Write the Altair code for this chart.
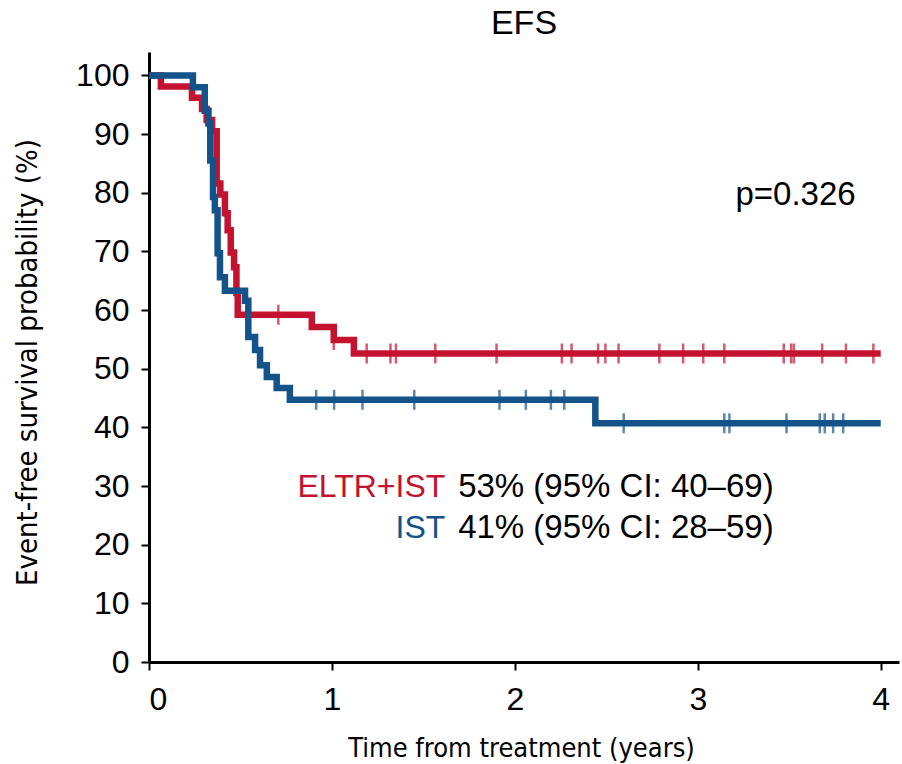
import altair as alt
import pandas as pd

RED = "#C4122F"
BLUE = "#13538A"

# Kaplan-Meier step points (time in years, survival %)
red_t = [0, 0.065, 0.235, 0.29, 0.315, 0.345, 0.37, 0.39, 0.415, 0.43, 0.447, 0.465, 0.478, 0.485, 0.89, 1.01, 1.12, 4.0]
red_s = [100, 98.1, 96.2, 94.3, 92.4, 90.5, 81.6, 79.7, 76.5, 73.6, 69.8, 67.3, 62.9, 59.2, 57.1, 54.9, 52.6, 52.6]

blue_t = [0, 0.24, 0.305, 0.325, 0.335, 0.35, 0.36, 0.375, 0.388, 0.415, 0.525, 0.543, 0.58, 0.607, 0.644, 0.698, 0.77, 2.44, 4.0]
blue_s = [100, 98.0, 94.0, 91.8, 85.5, 79.3, 77.0, 69.7, 65.6, 63.3, 61.6, 55.4, 53.2, 50.6, 48.6, 46.7, 44.7, 40.7, 40.7]

# censoring marks
red_cens_t = [0.707, 1.01, 1.19, 1.32, 1.35, 1.565, 1.90, 2.257, 2.31, 2.455, 2.495, 2.567,
              2.79, 2.92, 3.03, 3.145, 3.47, 3.51, 3.525, 3.68, 3.81, 3.96]
red_cens_s = [59.2, 54.9] + [52.6] * 20

blue_cens_t = [0.914, 1.012, 1.167, 1.45, 1.916, 2.06, 2.197, 2.27,
               2.595, 3.145, 3.173, 3.485, 3.667, 3.694, 3.74, 3.795]
blue_cens_s = [44.7] * 8 + [40.7] * 8

groups = ["ELTR+IST", "IST"]
estimates = ["53% (95% CI: 40\u201369)", "41% (95% CI: 28\u201359)"]
p_text = "p=0.326"

red_df = pd.DataFrame({"t": red_t, "s": red_s})
blue_df = pd.DataFrame({"t": blue_t, "s": blue_s})
red_c = pd.DataFrame({"t": red_cens_t, "s": red_cens_s})
blue_c = pd.DataFrame({"t": blue_cens_t, "s": blue_cens_s})

COND = "DejaVu Sans Condensed, Liberation Sans Narrow, Arial Narrow, sans-serif"

x_enc = alt.X("t:Q",
              scale=alt.Scale(domain=[0, 4.1], nice=False, zero=False),
              axis=alt.Axis(values=[0, 1, 2, 3, 4], format="d",
                            title="Time from treatment (years)",
                            titleX=372, titleY=94, titleAlign="center",
                            titleBaseline="alphabetic", titleFontSize=27, labelPadding=14))
y_enc = alt.Y("s:Q",
              scale=alt.Scale(domain=[0, 104], nice=False),
              axis=alt.Axis(values=list(range(0, 101, 10)),
                            title="Event-free survival probability (%)",
                            titleAngle=270, titleX=-113, titleY=310,
                            titleAlign="center", titleBaseline="alphabetic",
                            titleFontSize=29, labelPadding=12))

red_line = alt.Chart(red_df).mark_line(interpolate="step-after", strokeWidth=6.5, color=RED).encode(x=x_enc, y=y_enc)
blue_line = alt.Chart(blue_df).mark_line(interpolate="step-after", strokeWidth=6.5, color=BLUE).encode(x="t:Q", y="s:Q")
red_ticks = alt.Chart(red_c).mark_tick(orient="vertical", size=20, thickness=2.5, color=RED).encode(x="t:Q", y="s:Q")
blue_ticks = alt.Chart(blue_c).mark_tick(orient="vertical", size=20, thickness=2.5, color=BLUE).encode(x="t:Q", y="s:Q")

lab_df = pd.DataFrame({"g": groups, "e": estimates, "col": [RED, BLUE],
                       "t": [1.62, 1.62], "t2": [1.69, 1.69], "s": [29.8, 22.8]})
grp_text = alt.Chart(lab_df).mark_text(align="right", baseline="middle", font="Liberation Sans", fontSize=32).encode(
    x="t:Q", y="s:Q", text="g:N", color=alt.Color("col:N", scale=None))
est_text = alt.Chart(lab_df).mark_text(align="left", baseline="middle", font="Liberation Sans", fontSize=33, color="black").encode(
    x="t2:Q", y="s:Q", text="e:N")
p_df = pd.DataFrame({"t": [3.206], "s": [79.6], "txt": [p_text]})
p_mark = alt.Chart(p_df).mark_text(align="left", baseline="middle", font="Liberation Sans", fontSize=33, color="black").encode(
    x="t:Q", y="s:Q", text="txt:N")

chart = alt.layer(red_line, red_ticks, blue_line, blue_ticks, grp_text, est_text, p_mark).properties(
    width=750, height=610,
    autosize=alt.AutoSizeParams(type="none"),
    padding={"left": 149, "top": 52, "right": 3, "bottom": 102},
    title=alt.TitleParams("EFS", font="Liberation Sans", fontSize=34, fontWeight="normal",
                          anchor="middle", offset=11, color="black"),
).configure_view(stroke=None).configure_axis(
    grid=False, domainColor="black", domainWidth=3, tickColor="black", tickWidth=2, tickSize=8,
    labelFont="Liberation Sans", labelFontSize=32, labelColor="black",
    titleFont=COND, titleFontWeight="normal", titleColor="black",
)

chart.save("out.html", embed_options={"renderer": "svg", "actions": False})
